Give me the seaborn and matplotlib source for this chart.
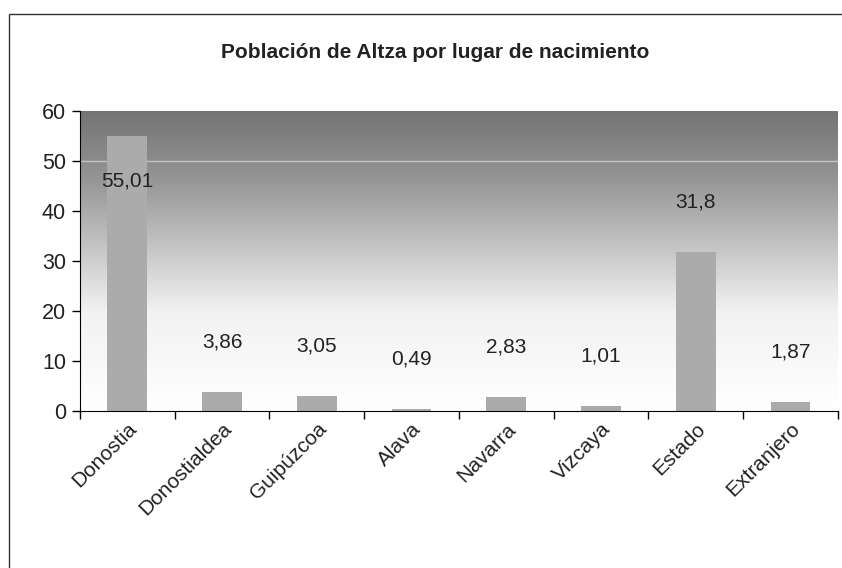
import numpy as np
import pandas as pd
import matplotlib
matplotlib.use('Agg')
import matplotlib.pyplot as plt
import seaborn as sns
from matplotlib.colors import LinearSegmentedColormap
from matplotlib.patches import Rectangle

# Chart data
lugares = ['Donostia', 'Donostialdea', 'Guipúzcoa', 'Alava', 'Navarra',
           'Vizcaya', 'Estado', 'Extranjero']
porcentajes = [55.01, 3.86, 3.05, 0.49, 2.83, 1.01, 31.8, 1.87]
etiquetas = ['55,01', '3,86', '3,05', '0,49', '2,83', '1,01', '31,8', '1,87']

df = pd.DataFrame({'lugar': lugares, 'valor': porcentajes})

sns.set_style('white')
plt.rcParams['font.family'] = ['Liberation Sans', 'DejaVu Sans']

fig = plt.figure(figsize=(8.42, 5.68), dpi=100)
ax = fig.add_axes([0.095, 0.2764, 0.90, 0.528])

# gradient background (dark at top, white at bottom)
cmap = LinearSegmentedColormap.from_list(
    'fondo', [(0.0, '#ffffff'), (0.33, '#f2f2f2'), (0.55, '#c4c4c4'),
              (0.78, '#949494'), (1.0, '#747474')])
grad = np.linspace(0, 1, 256).reshape(-1, 1)
ax.imshow(grad, cmap=cmap, aspect='auto', origin='lower',
          extent=[-0.5, len(lugares) - 0.5, 0, 60], zorder=0)

sns.barplot(data=df, x='lugar', y='valor', color='#ababab', width=0.42,
            saturation=1, edgecolor='none', linewidth=0, ax=ax, zorder=2)

ax.axhline(50, color='#c4c4c4', lw=1, zorder=1)

ax.set_xlim(-0.5, len(lugares) - 0.5)
ax.set_ylim(0, 60)
ax.set_yticks(range(0, 61, 10))
ax.set_xlabel('')
ax.set_ylabel('')

# data labels
for i, (v, t) in enumerate(zip(porcentajes, etiquetas)):
    ax.text(i, min(v + 10, 46), t, ha='center', va='center',
            fontsize=15, color='#222222', zorder=3)

# ticks: marks at category boundaries, labels at centers
ax.set_xticks(np.arange(len(lugares) + 1) - 0.5, minor=True)
ax.tick_params(axis='x', which='minor', length=6, width=1, color='black',
               direction='out', bottom=True)
ax.tick_params(axis='x', which='major', length=0, pad=6)
ax.set_xticklabels(lugares, rotation=45, ha='right', rotation_mode='anchor',
                   fontsize=15, color='#222222')
ax.tick_params(axis='y', length=6, width=1, color='black', direction='out',
               left=True, labelsize=15.5, labelcolor='#222222', pad=4)

for s in ['top', 'right']:
    ax.spines[s].set_visible(False)
ax.spines['left'].set_color('black')
ax.spines['bottom'].set_color('black')

fig.text(0.517, 0.908, 'Población de Altza por lugar de nacimiento',
         ha='center', va='center', fontsize=15, fontweight='bold',
         color='#222222')

# outer chart frame
fig.patches.append(Rectangle((0.011, -0.01), 1.0, 0.985, transform=fig.transFigure,
                             fill=False, edgecolor='#333333', lw=1))

fig.savefig('out.png', dpi=100)
